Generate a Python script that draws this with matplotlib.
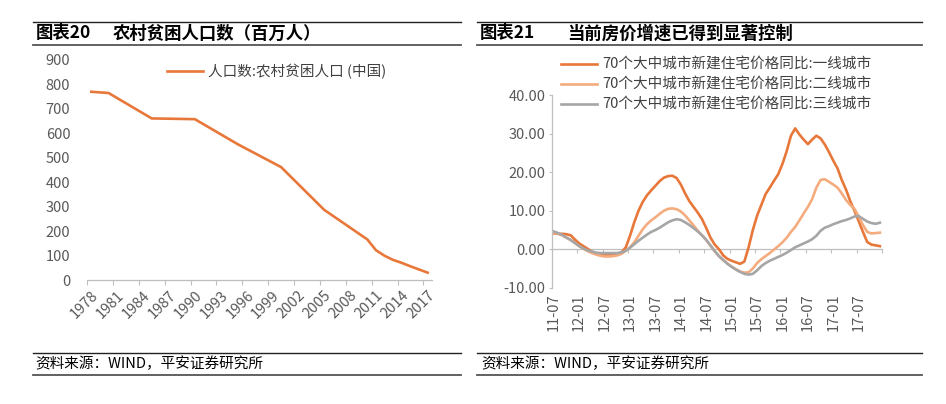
import matplotlib
matplotlib.use("Agg")
import matplotlib.pyplot as plt
from matplotlib.lines import Line2D

plt.rcParams['font.family'] = ['Noto Sans CJK SC', 'DejaVu Sans']

W, H = 946, 404

# ---- left chart data: rural poor population (million)
years = [1978, 1980, 1985, 1990, 1995, 2000, 2005, 2010, 2011, 2012, 2013, 2014, 2015, 2016, 2017]
poor = [770, 765, 661, 658, 555, 462, 287, 166, 122, 99, 82, 70, 56, 43, 30]
year_labels = [str(y) for y in range(1978, 2018, 3)]

# ---- right chart data: 70-city new home price y/y (%), 2011-07 .. 2017-12
month_labels = ['11-07', '12-01', '12-07', '13-01', '13-07', '14-01', '14-07',
                '15-01', '15-07', '16-01', '16-07', '17-01', '17-07']
tier1 = [4.1, 4.0, 4.0, 3.9, 3.6, 2.5, 1.5, 0.8, 0.1, -0.6, -1.2, -1.5, -1.6, -1.6, -1.4, -1.3,
         -0.8, 0.5, 3.5, 7.0, 10.0, 12.3, 14.0, 15.3, 16.5, 17.7, 18.6, 19.0, 19.1, 18.5,
         16.8, 14.5, 12.5, 11.0, 9.5, 7.8, 5.5, 3.0, 1.2, 0.0, -1.6, -2.5, -3.0, -3.4, -3.8,
         -3.2, 0.5, 5.0, 8.7, 11.5, 14.3, 16.0, 17.8, 19.5, 22.2, 25.5, 29.5, 31.4, 29.8,
         28.5, 27.3, 28.5, 29.5, 28.8, 27.2, 25.2, 23.0, 21.0, 18.0, 15.5, 12.5, 10.0, 7.3,
         4.5, 1.9, 1.2, 1.0, 0.8]
tier2 = [4.3, 4.0, 3.6, 3.0, 2.4, 1.6, 0.8, 0.1, -0.5, -1.0, -1.4, -1.7, -1.9, -1.9, -1.8, -1.6,
         -1.2, -0.4, 0.5, 1.8, 3.5, 5.2, 6.5, 7.5, 8.3, 9.2, 10.0, 10.5, 10.6, 10.4,
         9.8, 8.8, 7.5, 6.2, 4.8, 3.6, 2.4, 0.9, -0.5, -1.8, -2.8, -3.7, -4.5, -5.2, -5.8,
         -6.1, -6.0, -5.0, -3.6, -2.6, -1.8, -1.0, -0.1, 0.8, 1.8, 3.0, 4.5, 5.8, 7.5,
         9.3, 11.0, 13.0, 16.0, 18.0, 18.2, 17.5, 16.8, 16.0, 14.5, 12.8, 11.5, 10.5, 8.5,
         6.3, 4.5, 4.1, 4.2, 4.3]
tier3 = [4.6, 4.2, 3.7, 3.0, 2.4, 1.6, 0.8, 0.2, -0.3, -0.6, -0.9, -1.0, -1.0, -1.0, -1.0, -1.0,
         -0.8, -0.4, 0.4, 1.3, 2.2, 3.0, 3.8, 4.5, 5.0, 5.6, 6.3, 7.0, 7.5, 7.8,
         7.6, 7.0, 6.3, 5.5, 4.6, 3.6, 2.4, 1.0, -0.5, -1.8, -2.8, -3.8, -4.6, -5.3, -5.9,
         -6.4, -6.6, -6.4, -5.5, -4.4, -3.6, -3.0, -2.5, -2.0, -1.5, -0.9, -0.2, 0.5, 1.0,
         1.5, 2.0, 2.6, 3.5, 4.8, 5.6, 6.0, 6.5, 6.9, 7.3, 7.6, 8.0, 8.5, 8.6,
         7.9, 7.2, 6.8, 6.6, 6.9]
series_names = ['70个大中城市新建住宅价格同比:一线城市',
                '70个大中城市新建住宅价格同比:二线城市',
                '70个大中城市新建住宅价格同比:三线城市']
colors = ['#E8773A', '#F4AC7E', '#A6A6A6']

tick_color = '#595959'
axis_color = '#BFBFBF'


def px_rect(x0, y0, x1, y1):
    return [x0 / W, 1 - y1 / H, (x1 - x0) / W, (y1 - y0) / H]


def hline(fig, x0, x1, y, lw, color):
    fig.add_artist(Line2D([x0 / W, x1 / W], [1 - y / H, 1 - y / H],
                          transform=fig.transFigure, lw=lw, color=color))


fig = plt.figure(figsize=(W / 100, H / 100), dpi=100)

# header / footer rules and texts
for x0, x1 in [(33, 461), (477, 922)]:
    hline(fig, x0, x1, 22, 1.0, '#222222')
    hline(fig, x0, x1, 45, 1.3, '#555555')
    hline(fig, x0, x1, 353, 1.0, '#222222')
    hline(fig, x0, x1, 375, 1.3, '#555555')

title_kw = dict(fontsize=12.5, fontweight='bold', va='center')
fig.text(36 / W, 1 - 33.5 / H, '图表20', **title_kw)
fig.text(113 / W, 1 - 33.5 / H, '农村贫困人口数（百万人）', **title_kw)
fig.text(480 / W, 1 - 33.5 / H, '图表21', **title_kw)
fig.text(567 / W, 1 - 33.5 / H, '当前房价增速已得到显著控制', **title_kw)
for x in [35, 481]:
    fig.text(x / W, 1 - 364 / H, '资料来源：WIND，平安证券研究所', fontsize=10.5,
             style='italic', va='center')

# ---- left chart
ax1 = fig.add_axes(px_rect(87, 60, 432, 280))
ax1.plot(years, poor, color=colors[0], lw=1.9, label='人口数:农村贫困人口 (中国)')
ax1.set_xlim(1977.5, 2017.5)
ax1.set_ylim(0, 900)
ax1.set_yticks(range(0, 901, 100))
ax1.set_xticks([int(s) for s in year_labels])
ax1.set_xticklabels(year_labels, rotation=45, ha='right', va='top', rotation_mode='anchor')
ax1.set_xticks([1977.5 + 3 * k for k in range(14)], minor=True)
ax1.tick_params(axis='x', which='major', length=0, pad=6, labelsize=10.5, labelcolor=tick_color)
ax1.tick_params(axis='x', which='minor', length=3.5, width=0.8, color=axis_color, direction='out')
ax1.tick_params(axis='y', length=0, pad=12, labelsize=10.5, labelcolor=tick_color)
for s in ['top', 'right', 'left']:
    ax1.spines[s].set_visible(False)
ax1.spines['bottom'].set_color(axis_color)
ax1.spines['bottom'].set_linewidth(0.9)
ax1.legend(loc='upper left', bbox_to_anchor=(167 / W, 1 - 64 / H), bbox_transform=fig.transFigure,
           frameon=False, borderpad=0, borderaxespad=0, handlelength=2.5, handletextpad=0.3,
           fontsize=10.5, labelcolor='#404040')

# ---- right chart
months = list(range(len(tier1)))
ax2 = fig.add_axes(px_rect(551.7, 95.3, 882, 287.7))
for vals, name, c in zip([tier1, tier2, tier3], series_names, colors):
    ax2.plot(months, vals, color=c, lw=1.9, label=name)
ax2.set_xlim(-0.5, len(months) - 0.5)
ax2.set_ylim(-10, 40)
ax2.set_yticks(range(-10, 41, 10))
ax2.set_yticklabels(['%.2f' % v for v in range(-10, 41, 10)])
ax2.set_xticks([6 * k for k in range(len(month_labels))])
ax2.set_xticklabels(month_labels, rotation=90, ha='center', va='top')
ax2.tick_params(axis='x', length=0, pad=4, labelsize=10.5, labelcolor=tick_color)
ax2.tick_params(axis='y', length=2.5, width=0.8, color=axis_color, direction='out', pad=2,
                labelsize=10.5, labelcolor=tick_color)
for s in ['top', 'right', 'bottom']:
    ax2.spines[s].set_visible(False)
ax2.spines['left'].set_color(axis_color)
ax2.spines['left'].set_linewidth(0.9)

# zero axis with category boundary ticks
zero_ax = ax2.secondary_xaxis(0.2)
zero_ax.set_xticks([-0.5 + 6 * k for k in range(13)] + [len(months) - 0.5])
zero_ax.set_xticklabels([])
zero_ax.tick_params(length=3, width=0.8, color=axis_color, direction='out')
zero_ax.spines['bottom'].set_color(axis_color)
zero_ax.spines['bottom'].set_linewidth(0.9)

ax2.legend(loc='upper left', bbox_to_anchor=(561 / W, 1 - 58 / H), bbox_transform=fig.transFigure,
           frameon=False, borderpad=0, borderaxespad=0, handlelength=2.5, handletextpad=0.3,
           labelspacing=0.4, fontsize=10.5, labelcolor='#404040')

fig.savefig('out.png', dpi=100)
